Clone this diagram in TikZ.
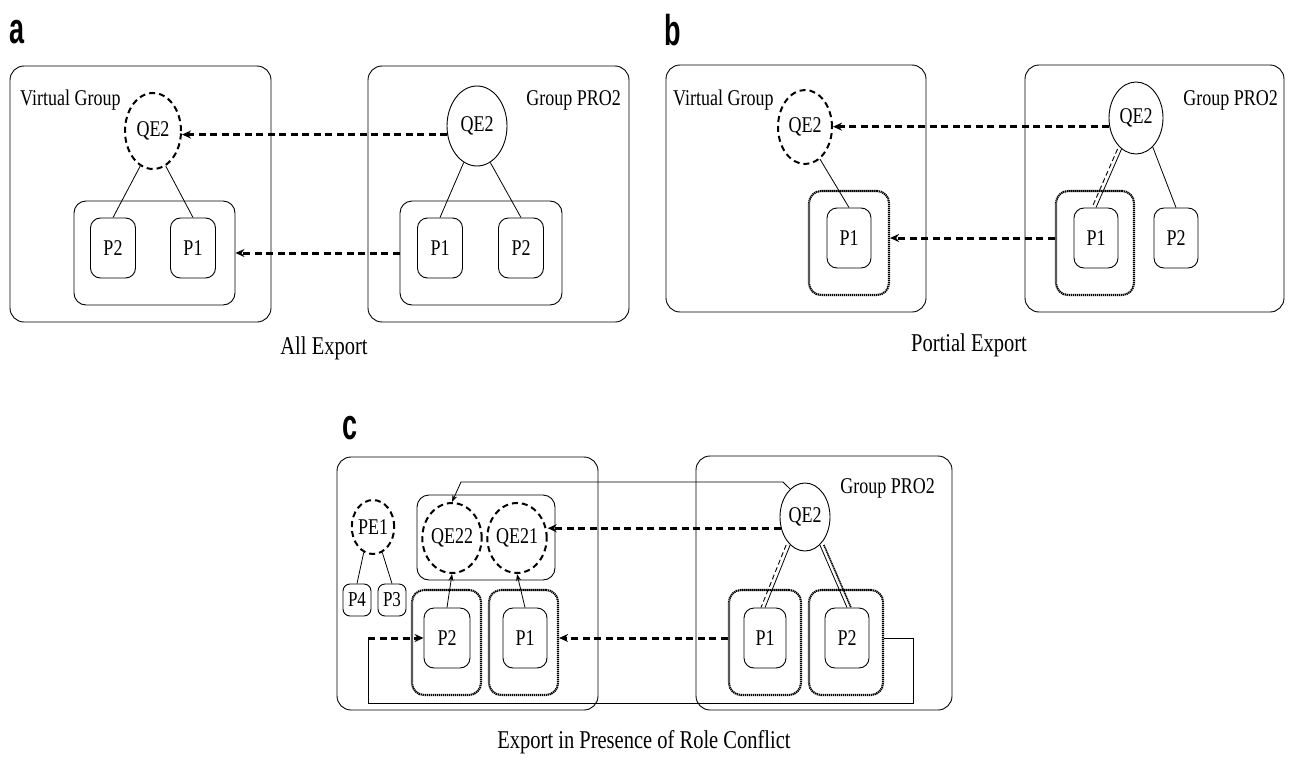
\documentclass[tikz,border=0pt]{standalone}
\usepackage{fontspec}
\setmainfont{Liberation Serif}
\newfontfamily\panelfont{Liberation Sans}
\usetikzlibrary{shapes.geometric,arrows.meta}
% tall text, as set in the figure
\newcommand{\tall}[1]{\scalebox{1}[1.25]{#1}}
\newcommand{\plabel}[1]{\scalebox{1}[1.6]{#1}}

\begin{document}
\begin{tikzpicture}[x=1pt,y=-1pt,
  lbl/.style={font=\fontsize{18}{20}\selectfont, inner sep=0pt},
  captext/.style={font=\fontsize{20.5}{22}\selectfont, inner sep=0pt},
  panel/.style={font=\panelfont\bfseries\fontsize{27}{28}\selectfont, inner sep=0pt},
  grp/.style={draw, rounded corners=14pt, line width=0.9pt},
  inbox/.style={draw, rounded corners=12pt, line width=0.9pt},
  dotbox/.style={draw, rounded corners=12pt, line width=2.1pt, dash pattern=on 1.3pt off 0.7pt},
  pn/.style={draw, rounded corners=10pt, line width=0.9pt, minimum width=45pt,
    minimum height=60pt, inner sep=0pt, font=\fontsize{18}{20}\selectfont},
  spn/.style={draw, rounded corners=7pt, line width=0.9pt, minimum width=28pt,
    minimum height=32pt, inner sep=0pt, font=\fontsize{17}{19}\selectfont},
  qe/.style={ellipse, draw, line width=0.9pt, inner sep=0pt, font=\fontsize{18}{20}\selectfont},
  vq/.style={ellipse, draw, line width=2pt, dash pattern=on 6pt off 4pt,
    inner sep=0pt, font=\fontsize{18}{20}\selectfont},
  exp/.style={line width=3pt, dash pattern=on 7pt off 4.5pt,
    -{Stealth[length=9pt,width=8pt]}},
  link/.style={line width=0.8pt},
  dlink/.style={line width=0.9pt, dash pattern=on 5pt off 3pt},
  dotlink/.style={line width=1.6pt, dash pattern=on 1.2pt off 0.6pt},
  tarrow/.style={line width=0.8pt, -{Stealth[length=7pt,width=5pt]}}
]
\useasboundingbox (0,0) rectangle (1293,760);

% ---------------- (a) All Export ----------------
\node[panel] (la) at (17,32) {\plabel{a}};
\node[grp, minimum width=261pt, minimum height=256pt] (aL) at (140.5,194) {};
\node[grp, minimum width=261pt, minimum height=256pt] (aR) at (498.5,194) {};
\node[lbl, anchor=west] (aVG) at (20,100) {\tall{Virtual Group}};
\node[lbl, anchor=east] (aGP) at (621,100) {\tall{Group PRO2}};
\node[vq, minimum width=56pt, minimum height=76pt] (aVQ) at (153,131) {\tall{QE2}};
\node[qe, minimum width=60pt, minimum height=80pt] (aQ) at (477,126) {\tall{QE2}};
\node[inbox, minimum width=161pt, minimum height=104pt] (aLI) at (154.5,253) {};
\node[inbox, minimum width=162pt, minimum height=104pt] (aRI) at (481,253) {};
\node[pn] (aLP2) at (113,248) {\tall{P2}};
\node[pn] (aLP1) at (193,248) {\tall{P1}};
\node[pn] (aRP1) at (440,248) {\tall{P1}};
\node[pn] (aRP2) at (521,248) {\tall{P2}};
\draw[link] (aVQ.250) -- (aLP2.north);
\draw[link] (aVQ.290) -- (aLP1.north);
\draw[link] (aQ.250) -- (aRP1.north);
\draw[link] (aQ.290) -- (aRP2.north);
\draw[exp] (aQ.196) -- (aQ.196 -| aVQ.east);
\draw[exp] (aRI.west) -- (aLI.east);
\node[captext] (capA) at (324,348) {\tall{All Export}};

% ---------------- (b) Partial Export ----------------
\node[panel] (lb) at (673,30) {\plabel{b}};
\node[grp, minimum width=260pt, minimum height=247pt] (bL) at (796,188.5) {};
\node[grp, minimum width=259pt, minimum height=247pt] (bR) at (1154.5,188.5) {};
\node[lbl, anchor=west] (bVG) at (673,100) {\tall{Virtual Group}};
\node[lbl, anchor=east] (bGP) at (1278,100) {\tall{Group PRO2}};
\node[vq, minimum width=54pt, minimum height=74pt] (bVQ) at (805,127) {\tall{QE2}};
\node[qe, minimum width=54pt, minimum height=72pt] (bQ) at (1136,118) {\tall{QE2}};
\node[dotbox, minimum width=80pt, minimum height=104pt] (bLD) at (849,243) {};
\node[dotbox, minimum width=78pt, minimum height=104pt] (bRD) at (1095,243) {};
\node[pn, minimum width=44pt] (bLP1) at (849,238) {\tall{P1}};
\node[pn, minimum width=44pt] (bRP1) at (1096,238) {\tall{P1}};
\node[pn, minimum width=44pt] (bRP2) at (1176,238) {\tall{P2}};
\draw[link] (bVQ.295) -- (bLP1.north);
\draw[link] (bQ.245) -- (bRP1.north);
\draw[dlink, transform canvas={xshift=-4pt}] (bQ.245) -- (bRP1.north);
\draw[link] (bQ.300) -- (bRP2.north);
\draw[exp] (bQ.198) -- (bQ.198 -| bVQ.east);
\draw[exp] (bRP1.west -| bRD.west) -- (bLP1.east -| bLD.east);
\node[captext] (capB) at (969,345) {\tall{Portial Export}};

% ---------------- (c) Export with role conflict ----------------
\node[panel] (lc) at (350,428) {\plabel{c}};
\node[grp, minimum width=261pt, minimum height=253pt] (cL) at (467.5,583.5) {};
\node[grp, minimum width=256pt, minimum height=254pt] (cR) at (824,583) {};
\node[lbl, anchor=east] (cGP) at (935,488) {\tall{Group PRO2}};
\node[qe, minimum width=50pt, minimum height=68pt] (cQ) at (805,517) {\tall{QE2}};
\node[vq, minimum width=40pt, minimum height=54pt] (cPE) at (373,527) {\tall{PE1}};
\node[inbox, minimum width=138pt, minimum height=85pt] (cI) at (486,537.5) {};
\node[vq, minimum width=50pt, minimum height=70pt] (cQ22) at (452,538) {\tall{QE22}};
\node[vq, minimum width=52pt, minimum height=70pt] (cQ21) at (517,538) {\tall{QE21}};
\node[spn] (cP4) at (357,600) {\tall{P4}};
\node[spn] (cP3) at (392,600) {\tall{P3}};
\node[dotbox, minimum width=69pt, minimum height=105pt] (cLD2) at (446.5,642.5) {};
\node[dotbox, minimum width=69pt, minimum height=105pt] (cLD1) at (523.5,642.5) {};
\node[dotbox, minimum width=72pt, minimum height=105pt] (cRD1) at (765,642.5) {};
\node[dotbox, minimum width=74pt, minimum height=105pt] (cRD2) at (846,642.5) {};
\node[pn, minimum width=46pt] (cLP2) at (447,638) {\tall{P2}};
\node[pn, minimum width=44pt] (cLP1) at (525,638) {\tall{P1}};
\node[pn, minimum width=42pt] (cRP1) at (765,638) {\tall{P1}};
\node[pn, minimum width=44pt] (cRP2) at (847,638) {\tall{P2}};
\coordinate (cK1) at (783,482);
\coordinate (cK2) at (461,482);
\coordinate (cLoopR) at (913,703);
\coordinate (cLoopL) at (368,703);

\draw[link] (cPE.250) -- (cP4.north);
\draw[link] (cPE.290) -- (cP3.north);
\draw[tarrow] (cLP2.north) -- (cQ22.south);
\draw[tarrow] (cLP1.north) -- (cQ21.south);
\draw[tarrow] (cQ.118) -- (cK1) -- (cK2) -- (cQ22.north);
\draw[exp] (cQ.205) -- (cQ.205 -| cQ21.east);
\draw[link] (cQ.242) -- (cRP1.north);
\draw[dlink, transform canvas={xshift=-4pt}] (cQ.242) -- (cRP1.north);
\draw[link] (cQ.298) -- (cRP2.north);
\draw[dotlink, transform canvas={xshift=4pt}] (cQ.298) -- (cRP2.north);
\draw[exp] (cRP1.west -| cRD1.west) -- (cLP1.east -| cLD1.east);
\draw[link] (cRP2.east -| cRD2.east) -| (cLoopR) -- (cLoopL) -- (cLoopL |- cLP2.west);
\draw[exp] (cLoopL |- cLP2.west) -- (cLP2.west);
\node[captext] (capC) at (644,742) {\tall{Export in Presence of Role Conflict}};
\end{tikzpicture}
\end{document}
